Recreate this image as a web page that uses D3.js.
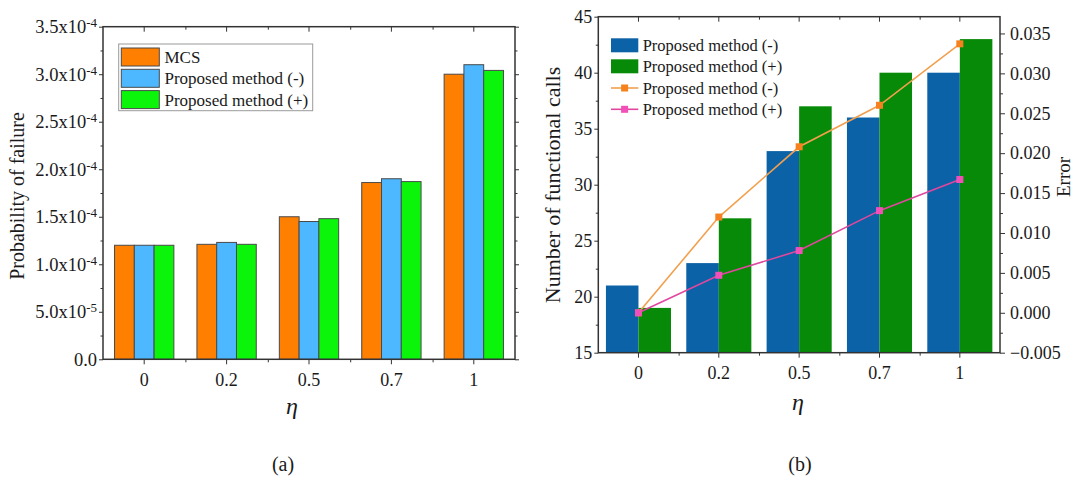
<!DOCTYPE html>
<html>
<head>
<meta charset="utf-8">
<script src="https://cdn.jsdelivr.net/npm/d3@7"></script>
<style>
  body { margin: 0; background: #fff; }
  svg { display: block; font-family: "Liberation Serif", "Times New Roman", serif; }
  .axis path, .axis line { stroke: #333; }
  .axis text { fill: #1a1a1a; font-family: "Liberation Serif", serif; }
</style>
</head>
<body>
<div id="chart"></div>
<script>
// ========== Data ==========
const etas = ["0", "0.2", "0.5", "0.7", "1"];

// (a) probability of failure
const seriesA = ["MCS", "Proposed method (-)", "Proposed method (+)"];
const pfMCS = [1.2e-4, 1.21e-4, 1.5e-4, 1.86e-4, 3.0e-4];
const pfMinus = [1.2e-4, 1.23e-4, 1.45e-4, 1.9e-4, 3.1e-4];
const pfPlus = [1.2e-4, 1.21e-4, 1.48e-4, 1.87e-4, 3.04e-4];
const yTicksA = [0, 5e-5, 1e-4, 1.5e-4, 2e-4, 2.5e-4, 3e-4, 3.5e-4];

// (b) functional calls + error
const seriesB = ["Proposed method (-)", "Proposed method (+)"];
const callsMinus = [21, 23, 33, 36, 40];
const callsPlus = [19, 27, 37, 40, 43];
const errMinus = [0, 0.012, 0.0208, 0.026, 0.0337];
const errPlus = [0, 0.0047, 0.0078, 0.0128, 0.0167];
const yTicksB = [15, 20, 25, 30, 35, 40, 45];
const errTicks = [-0.005, 0, 0.005, 0.01, 0.015, 0.02, 0.025, 0.03, 0.035];

const colorsA = ["#ff7f00", "#4db8ff", "#0af50a"];
const colorsB = ["#0b62a6", "#078a07"];
const lineColors = ["#f2a04e", "#e0479e"];
const markerColors = ["#f5821f", "#f050b8"];

const W = 1075, H = 479;
const svg = d3.select("#chart").append("svg").attr("width", W).attr("height", H);
svg.append("rect").attr("width", W).attr("height", H).attr("fill", "#fff");

// helper: minor ticks on a categorical axis sit between categories
function catMinor(box) {
  return d3.scaleLinear().domain([0, etas.length]).range([box.left, box.right]);
}

// ========== Chart (a) ==========
function drawA() {
  const box = { left: 103, right: 515, top: 26.7, bottom: 359.3 };
  const g = svg.append("g");

  const x = d3.scaleBand().domain(etas).range([box.left, box.right])
    .paddingInner(0.28).paddingOuter(0.14);
  const x1 = d3.scaleBand().domain(seriesA).range([0, x.bandwidth()]);
  const y = d3.scaleLinear().domain([0, 3.5e-4]).range([box.bottom, box.top]);
  const xm = catMinor(box);
  const yMinor = yTicksA.slice(0, -1).map((d) => d + 2.5e-5);

  const values = [pfMCS, pfMinus, pfPlus];
  seriesA.forEach((s, si) => {
    g.append("g").selectAll("rect").data(values[si]).join("rect")
      .attr("x", (d, i) => x(etas[i]) + x1(s))
      .attr("y", (d) => y(d))
      .attr("width", x1.bandwidth())
      .attr("height", (d) => y(0) - y(d))
      .attr("fill", colorsA[si])
      .attr("stroke", "#4a4a4a")
      .attr("stroke-width", 1);
  });

  // frame
  g.append("rect").attr("x", box.left).attr("y", box.top)
    .attr("width", box.right - box.left).attr("height", box.bottom - box.top)
    .attr("fill", "none").attr("stroke", "#333").attr("stroke-width", 1.5);

  // bottom
  g.append("g").attr("class", "axis").attr("transform", `translate(0,${box.bottom})`)
    .call(d3.axisBottom(x).tickSize(5).tickSizeOuter(0).tickPadding(9))
    .call((a) => a.select(".domain").remove())
    .selectAll("text").attr("font-size", 18);
  g.append("g").attr("class", "axis").attr("transform", `translate(0,${box.bottom})`)
    .call(d3.axisBottom(xm).tickValues([1, 2, 3, 4]).tickSize(3).tickFormat(""))
    .call((a) => a.select(".domain").remove());
  // top (inward)
  g.append("g").attr("class", "axis").attr("transform", `translate(0,${box.top})`)
    .call(d3.axisBottom(x).tickSize(5).tickFormat(""))
    .call((a) => a.select(".domain").remove());
  g.append("g").attr("class", "axis").attr("transform", `translate(0,${box.top})`)
    .call(d3.axisBottom(xm).tickValues([1, 2, 3, 4]).tickSize(3).tickFormat(""))
    .call((a) => a.select(".domain").remove());

  // left
  const left = g.append("g").attr("class", "axis").attr("transform", `translate(${box.left},0)`)
    .call(d3.axisLeft(y).tickValues(yTicksA).tickSize(4).tickPadding(2))
    .call((a) => a.select(".domain").remove());
  left.selectAll(".tick text").attr("font-size", 18.5).each(function (d) {
    const t = d3.select(this).text(null);
    if (d === 0) { t.text("0.0"); return; }
    const e = Math.floor(Math.log10(d) + 1e-9);
    t.append("tspan").text((d / Math.pow(10, e)).toFixed(1) + "x10");
    t.append("tspan").attr("dy", "-0.45em").attr("font-size", 13).text(e);
  });
  g.append("g").attr("class", "axis").attr("transform", `translate(${box.left},0)`)
    .call(d3.axisLeft(y).tickValues(yMinor).tickSize(2.5).tickFormat(""))
    .call((a) => a.select(".domain").remove());
  // right (outward)
  g.append("g").attr("class", "axis").attr("transform", `translate(${box.right},0)`)
    .call(d3.axisRight(y).tickValues(yTicksA).tickSize(4).tickFormat(""))
    .call((a) => a.select(".domain").remove());
  g.append("g").attr("class", "axis").attr("transform", `translate(${box.right},0)`)
    .call(d3.axisRight(y).tickValues(yMinor).tickSize(2.5).tickFormat(""))
    .call((a) => a.select(".domain").remove());

  // labels
  g.append("text").attr("transform", "rotate(-90)")
    .attr("x", -(box.top + box.bottom) / 2 - 3).attr("y", 24)
    .attr("text-anchor", "middle").attr("font-size", 20).attr("fill", "#1a1a1a")
    .text("Probability of failure");
  g.append("text").attr("x", 292).attr("y", 414)
    .attr("text-anchor", "middle").attr("font-size", 24).attr("font-style", "italic")
    .attr("fill", "#1a1a1a").text("η");
  g.append("text").attr("x", 283).attr("y", 471)
    .attr("text-anchor", "middle").attr("font-size", 20).attr("fill", "#1a1a1a").text("(a)");

  // legend
  const lg = g.append("g");
  lg.append("rect").attr("x", 118.7).attr("y", 44).attr("width", 194).attr("height", 66.7)
    .attr("fill", "#fff").attr("stroke", "#9a9a9a").attr("stroke-width", 1);
  seriesA.forEach((s, i) => {
    const cy = 57 + i * 21.3;
    lg.append("rect").attr("x", 121.3).attr("y", cy - 9).attr("width", 38).attr("height", 18)
      .attr("fill", colorsA[i]).attr("stroke", "#4a4a4a").attr("stroke-width", 1);
    lg.append("text").attr("x", 164.5).attr("y", cy + 6)
      .attr("font-size", 17).attr("fill", "#1a1a1a").text(s);
  });
}

// ========== Chart (b) ==========
function drawB() {
  const box = { left: 598.3, right: 1000, top: 16.7, bottom: 352.7 };
  const g = svg.append("g");

  const x = d3.scaleBand().domain(etas).range([box.left, box.right])
    .paddingInner(0.19).paddingOuter(0.095);
  const x1 = d3.scaleBand().domain(seriesB).range([0, x.bandwidth()]);
  const y = d3.scaleLinear().domain([15, 45]).range([box.bottom, box.top]);
  const yR = d3.scaleLinear().domain([-0.005, 0.0371]).range([box.bottom, box.top]);
  const xm = catMinor(box);
  const yMinor = yTicksB.slice(0, -1).map((d) => d + 2.5);
  const errMinor = errTicks.map((d) => d + 0.0025).filter((d) => yR(d) > box.top);

  const values = [callsMinus, callsPlus];
  seriesB.forEach((s, si) => {
    g.append("g").selectAll("rect").data(values[si]).join("rect")
      .attr("x", (d, i) => x(etas[i]) + x1(s))
      .attr("y", (d) => y(d))
      .attr("width", x1.bandwidth())
      .attr("height", (d) => y(15) - y(d))
      .attr("fill", colorsB[si]);
  });

  const cx = (i) => x(etas[i]) + x.bandwidth() / 2;
  [errMinus, errPlus].forEach((vals, li) => {
    const line = d3.line().x((d, i) => cx(i)).y((d) => yR(d));
    g.append("path").datum(vals).attr("fill", "none")
      .attr("stroke", lineColors[li]).attr("stroke-width", 1.6).attr("d", line);
    g.append("g").selectAll("rect").data(vals).join("rect")
      .attr("x", (d, i) => cx(i) - 3.5).attr("y", (d) => yR(d) - 3.5)
      .attr("width", 7).attr("height", 7).attr("fill", markerColors[li]);
  });

  // frame
  g.append("rect").attr("x", box.left).attr("y", box.top)
    .attr("width", box.right - box.left).attr("height", box.bottom - box.top)
    .attr("fill", "none").attr("stroke", "#333").attr("stroke-width", 1.5);

  g.append("g").attr("class", "axis").attr("transform", `translate(0,${box.bottom})`)
    .call(d3.axisBottom(x).tickSize(5).tickSizeOuter(0).tickPadding(9))
    .call((a) => a.select(".domain").remove())
    .selectAll("text").attr("font-size", 18);
  g.append("g").attr("class", "axis").attr("transform", `translate(0,${box.bottom})`)
    .call(d3.axisBottom(xm).tickValues([1, 2, 3, 4]).tickSize(3).tickFormat(""))
    .call((a) => a.select(".domain").remove());
  g.append("g").attr("class", "axis").attr("transform", `translate(0,${box.top})`)
    .call(d3.axisBottom(x).tickSize(5).tickFormat(""))
    .call((a) => a.select(".domain").remove());
  g.append("g").attr("class", "axis").attr("transform", `translate(0,${box.top})`)
    .call(d3.axisBottom(xm).tickValues([1, 2, 3, 4]).tickSize(3).tickFormat(""))
    .call((a) => a.select(".domain").remove());

  g.append("g").attr("class", "axis").attr("transform", `translate(${box.left},0)`)
    .call(d3.axisLeft(y).tickValues(yTicksB).tickSize(4).tickPadding(2))
    .call((a) => a.select(".domain").remove())
    .selectAll("text").attr("font-size", 18);
  g.append("g").attr("class", "axis").attr("transform", `translate(${box.left},0)`)
    .call(d3.axisLeft(y).tickValues(yMinor).tickSize(2.5).tickFormat(""))
    .call((a) => a.select(".domain").remove());

  g.append("g").attr("class", "axis").attr("transform", `translate(${box.right},0)`)
    .call(d3.axisRight(yR).tickValues(errTicks).tickSize(5).tickPadding(5).tickFormat(d3.format(".3f")))
    .call((a) => a.select(".domain").remove())
    .selectAll("text").attr("font-size", 18);
  g.append("g").attr("class", "axis").attr("transform", `translate(${box.right},0)`)
    .call(d3.axisRight(yR).tickValues(errMinor).tickSize(3).tickFormat(""))
    .call((a) => a.select(".domain").remove());

  g.append("text").attr("transform", "rotate(-90)")
    .attr("x", -185).attr("y", 560)
    .attr("text-anchor", "middle").attr("font-size", 22).attr("fill", "#1a1a1a")
    .text("Number of functional calls");
  g.append("text").attr("transform", "rotate(-90)")
    .attr("x", -177).attr("y", 1070)
    .attr("text-anchor", "middle").attr("font-size", 19).attr("fill", "#1a1a1a")
    .text("Error");
  g.append("text").attr("x", 798).attr("y", 410)
    .attr("text-anchor", "middle").attr("font-size", 24).attr("font-style", "italic")
    .attr("fill", "#1a1a1a").text("η");
  g.append("text").attr("x", 800).attr("y", 471)
    .attr("text-anchor", "middle").attr("font-size", 20).attr("fill", "#1a1a1a").text("(b)");

  // legend
  const lg = g.append("g");
  const rows = [45.3, 66.3, 88, 109.3];
  seriesB.forEach((s, i) => {
    lg.append("rect").attr("x", 611).attr("y", rows[i] - 7).attr("width", 27.3).attr("height", 14)
      .attr("fill", colorsB[i]);
    lg.append("text").attr("x", 642.7).attr("y", rows[i] + 5.5)
      .attr("font-size", 16.5).attr("fill", "#1a1a1a").text(s);
  });
  seriesB.forEach((s, i) => {
    const cy = rows[i + 2];
    lg.append("line").attr("x1", 611).attr("x2", 638.3).attr("y1", cy).attr("y2", cy)
      .attr("stroke", lineColors[i]).attr("stroke-width", 1.6);
    lg.append("rect").attr("x", 624.6 - 3.5).attr("y", cy - 3.5).attr("width", 7).attr("height", 7)
      .attr("fill", markerColors[i]);
    lg.append("text").attr("x", 642.7).attr("y", cy + 5.5)
      .attr("font-size", 16.5).attr("fill", "#1a1a1a").text(s);
  });
}

drawA();
drawB();
</script>
</body>
</html>
